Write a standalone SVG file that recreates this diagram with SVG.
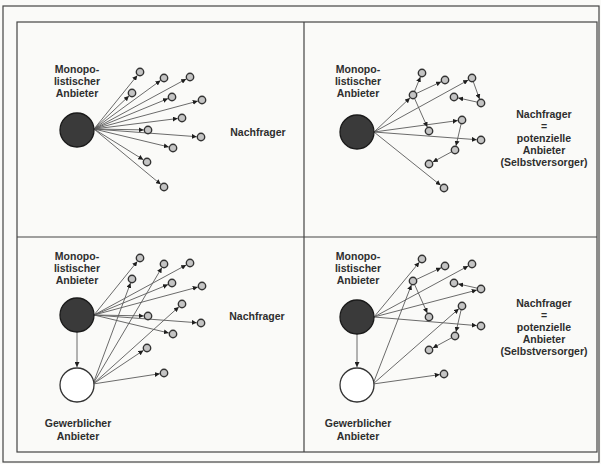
<svg xmlns="http://www.w3.org/2000/svg" width="601" height="464" viewBox="0 0 601 464">
<style>
.t{font-family:"Liberation Sans",Arial,sans-serif;font-weight:bold;font-size:10.5px;fill:#2e2e2e;text-anchor:middle}
.n{fill:#c4c4c4;stroke:#333;stroke-width:1.4}
.big{fill:#3a3a3a;stroke:#1a1a1a;stroke-width:1.3}
.wht{fill:#ffffff;stroke:#333;stroke-width:1.3}
.c line{stroke:#5a5a5a;stroke-width:0.9;marker-end:url(#ah)}
.fr{fill:none;stroke:#444;stroke-width:1.2}
</style>
<defs>
<marker id="ah" markerUnits="userSpaceOnUse" markerWidth="6" markerHeight="5" refX="5" refY="2.5" orient="auto"><path d="M0,0 L5,2.5 L0,5 z" fill="#1e1e1e"/></marker>
</defs>
<rect x="0" y="0" width="601" height="464" fill="#fafaf8"/>
<g id="frame">
<rect class="fr" x="3" y="6" width="596" height="456" stroke="#777" stroke-width="1.5"/>
<rect class="fr" x="17" y="22" width="580" height="430"/>
<line class="fr" x1="304" y1="22" x2="304" y2="452"/>
<line class="fr" x1="17" y1="237" x2="597" y2="237"/>
</g>

<g id="connectors" class="c">
<!-- TL -->
<line x1="94" y1="129" x2="137.3" y2="75.4"/>
<line x1="94" y1="129" x2="160.5" y2="80.5"/>
<line x1="94" y1="129" x2="186.2" y2="79.0"/>
<line x1="94" y1="129" x2="128.9" y2="96.0"/>
<line x1="94" y1="129" x2="168.0" y2="98.6"/>
<line x1="94" y1="129" x2="197.8" y2="101.1"/>
<line x1="94" y1="129" x2="177.7" y2="118.5"/>
<line x1="94" y1="129" x2="143.7" y2="129.9"/>
<line x1="94" y1="129" x2="196.7" y2="136.7"/>
<line x1="94" y1="129" x2="168.8" y2="147.0"/>
<line x1="94" y1="129" x2="143.3" y2="159.7"/>
<line x1="94" y1="129" x2="160.7" y2="184.3"/>
<!-- TR -->
<line x1="374" y1="132" x2="409.9" y2="98.0"/>
<line x1="374" y1="132" x2="468.2" y2="80.1"/>
<line x1="374" y1="132" x2="457.7" y2="120.6"/>
<line x1="374" y1="132" x2="476.7" y2="139.7"/>
<line x1="374" y1="132" x2="440.6" y2="185.3"/>
<line x1="414.4" y1="91.7" x2="420.4" y2="77.0"/>
<line x1="416.3" y1="93.5" x2="441.1" y2="81.8"/>
<line x1="414.5" y1="98.3" x2="427.3" y2="127.1"/>
<line x1="473.2" y1="81.4" x2="479.5" y2="99.0"/>
<line x1="477.5" y1="102.2" x2="458.2" y2="97.9"/>
<line x1="461.2" y1="123.5" x2="456.0" y2="145.8"/>
<line x1="451.8" y1="151.7" x2="432.8" y2="162.0"/>
<!-- BL -->
<line x1="77" y1="332" x2="77" y2="367"/>
<line x1="94" y1="315" x2="137.3" y2="261.4"/>
<line x1="94" y1="315" x2="186.2" y2="265.0"/>
<line x1="94" y1="315" x2="168.0" y2="284.6"/>
<line x1="94" y1="315" x2="197.8" y2="287.1"/>
<line x1="94" y1="315" x2="143.7" y2="315.9"/>
<line x1="94" y1="315" x2="196.7" y2="322.7"/>
<line x1="94" y1="315" x2="168.8" y2="333.0"/>
<line x1="93" y1="384" x2="161.8" y2="267.7"/>
<line x1="93" y1="384" x2="130.5" y2="283.0"/>
<line x1="93" y1="384" x2="178.8" y2="306.9"/>
<line x1="93" y1="384" x2="143.4" y2="350.4"/>
<line x1="93" y1="384" x2="159.8" y2="373.7"/>
<!-- BR -->
<line x1="357" y1="334" x2="357" y2="367"/>
<line x1="374" y1="317" x2="419.3" y2="262.3"/>
<line x1="374" y1="317" x2="468.2" y2="266.0"/>
<line x1="374" y1="317" x2="476.8" y2="290.1"/>
<line x1="374" y1="317" x2="476.7" y2="325.6"/>
<line x1="373" y1="384" x2="411.4" y2="285.0"/>
<line x1="373" y1="384" x2="458.8" y2="308.8"/>
<line x1="373" y1="384" x2="439.7" y2="374.6"/>
<line x1="416.3" y1="279.5" x2="441.1" y2="267.8"/>
<line x1="414.5" y1="284.3" x2="427.3" y2="313.1"/>
<line x1="477.5" y1="288.2" x2="458.2" y2="283.9"/>
<line x1="461.2" y1="309.5" x2="456.0" y2="331.8"/>
<line x1="451.8" y1="337.7" x2="432.8" y2="348.0"/>
</g>

<!-- Top-left quadrant -->
<g id="tl-monopolist"><circle class="big" cx="77" cy="130" r="17"/>
<text class="t" x="77" y="73">Monopo-</text><text class="t" x="77" y="85">listischer</text><text class="t" x="77" y="97">Anbieter</text></g>
<g id="tl-label"><text class="t" x="258" y="136">Nachfrager</text></g>
<g id="tl-n1"><circle class="n" cx="140" cy="72" r="3.7"/></g>
<g id="tl-n2"><circle class="n" cx="164" cy="78" r="3.7"/></g>
<g id="tl-n3"><circle class="n" cx="190" cy="77" r="3.7"/></g>
<g id="tl-n4"><circle class="n" cx="132" cy="93" r="3.7"/></g>
<g id="tl-n5"><circle class="n" cx="172" cy="97" r="3.7"/></g>
<g id="tl-n6"><circle class="n" cx="202" cy="100" r="3.7"/></g>
<g id="tl-n7"><circle class="n" cx="182" cy="118" r="3.7"/></g>
<g id="tl-n8"><circle class="n" cx="148" cy="130" r="3.7"/></g>
<g id="tl-n9"><circle class="n" cx="201" cy="137" r="3.7"/></g>
<g id="tl-n10"><circle class="n" cx="173" cy="148" r="3.7"/></g>
<g id="tl-n11"><circle class="n" cx="147" cy="162" r="3.7"/></g>
<g id="tl-n12"><circle class="n" cx="164" cy="187" r="3.7"/></g>

<!-- Top-right quadrant -->
<g id="tr-monopolist"><circle class="big" cx="357" cy="132" r="17"/>
<text class="t" x="358" y="73">Monopo-</text><text class="t" x="358" y="85">listischer</text><text class="t" x="358" y="97">Anbieter</text></g>
<g id="tr-label"><text class="t" x="544" y="118">Nachfrager</text><text class="t" x="544" y="130">=</text><text class="t" x="544" y="142">potenzielle</text><text class="t" x="544" y="154">Anbieter</text><text class="t" x="544" y="166">(Selbstversorger)</text></g>
<g id="tr-a"><circle class="n" cx="422" cy="73" r="3.7"/></g>
<g id="tr-b"><circle class="n" cx="445" cy="80" r="3.7"/></g>
<g id="tr-c"><circle class="n" cx="472" cy="78" r="3.7"/></g>
<g id="tr-d"><circle class="n" cx="413" cy="95" r="3.7"/></g>
<g id="tr-e"><circle class="n" cx="454" cy="97" r="3.7"/></g>
<g id="tr-f"><circle class="n" cx="481" cy="103" r="3.7"/></g>
<g id="tr-g"><circle class="n" cx="462" cy="120" r="3.7"/></g>
<g id="tr-h"><circle class="n" cx="429" cy="131" r="3.7"/></g>
<g id="tr-i"><circle class="n" cx="481" cy="140" r="3.7"/></g>
<g id="tr-j"><circle class="n" cx="455" cy="150" r="3.7"/></g>
<g id="tr-k"><circle class="n" cx="429" cy="164" r="3.7"/></g>
<g id="tr-l"><circle class="n" cx="444" cy="188" r="3.7"/></g>

<!-- Bottom-left quadrant -->
<g id="bl-monopolist"><circle class="big" cx="77" cy="315" r="17"/>
<text class="t" x="77" y="260">Monopo-</text><text class="t" x="77" y="272">listischer</text><text class="t" x="77" y="284">Anbieter</text></g>
<g id="bl-gewerblich"><circle class="wht" cx="77" cy="385" r="17"/>
<text class="t" x="78" y="427">Gewerblicher</text><text class="t" x="78" y="440">Anbieter</text></g>
<g id="bl-label"><text class="t" x="257" y="320">Nachfrager</text></g>
<g id="bl-n1"><circle class="n" cx="140" cy="258" r="3.7"/></g>
<g id="bl-n2"><circle class="n" cx="164" cy="264" r="3.7"/></g>
<g id="bl-n3"><circle class="n" cx="190" cy="263" r="3.7"/></g>
<g id="bl-n4"><circle class="n" cx="132" cy="279" r="3.7"/></g>
<g id="bl-n5"><circle class="n" cx="172" cy="283" r="3.7"/></g>
<g id="bl-n6"><circle class="n" cx="202" cy="286" r="3.7"/></g>
<g id="bl-n7"><circle class="n" cx="182" cy="304" r="3.7"/></g>
<g id="bl-n8"><circle class="n" cx="148" cy="316" r="3.7"/></g>
<g id="bl-n9"><circle class="n" cx="201" cy="323" r="3.7"/></g>
<g id="bl-n10"><circle class="n" cx="173" cy="334" r="3.7"/></g>
<g id="bl-n11"><circle class="n" cx="147" cy="348" r="3.7"/></g>
<g id="bl-n12"><circle class="n" cx="164" cy="373" r="3.7"/></g>

<!-- Bottom-right quadrant -->
<g id="br-monopolist"><circle class="big" cx="357" cy="317" r="17"/>
<text class="t" x="358" y="260">Monopo-</text><text class="t" x="358" y="272">listischer</text><text class="t" x="358" y="284">Anbieter</text></g>
<g id="br-gewerblich"><circle class="wht" cx="357" cy="385" r="17"/>
<text class="t" x="358" y="427">Gewerblicher</text><text class="t" x="358" y="440">Anbieter</text></g>
<g id="br-label"><text class="t" x="544" y="307">Nachfrager</text><text class="t" x="544" y="319">=</text><text class="t" x="544" y="331">potenzielle</text><text class="t" x="544" y="343">Anbieter</text><text class="t" x="544" y="355">(Selbstversorger)</text></g>
<g id="br-a"><circle class="n" cx="422" cy="259" r="3.7"/></g>
<g id="br-b"><circle class="n" cx="445" cy="266" r="3.7"/></g>
<g id="br-c"><circle class="n" cx="472" cy="264" r="3.7"/></g>
<g id="br-d"><circle class="n" cx="413" cy="281" r="3.7"/></g>
<g id="br-e"><circle class="n" cx="454" cy="283" r="3.7"/></g>
<g id="br-f"><circle class="n" cx="481" cy="289" r="3.7"/></g>
<g id="br-g"><circle class="n" cx="462" cy="306" r="3.7"/></g>
<g id="br-h"><circle class="n" cx="429" cy="317" r="3.7"/></g>
<g id="br-i"><circle class="n" cx="481" cy="326" r="3.7"/></g>
<g id="br-j"><circle class="n" cx="455" cy="336" r="3.7"/></g>
<g id="br-k"><circle class="n" cx="429" cy="350" r="3.7"/></g>
<g id="br-l"><circle class="n" cx="444" cy="374" r="3.7"/></g>
</svg>
